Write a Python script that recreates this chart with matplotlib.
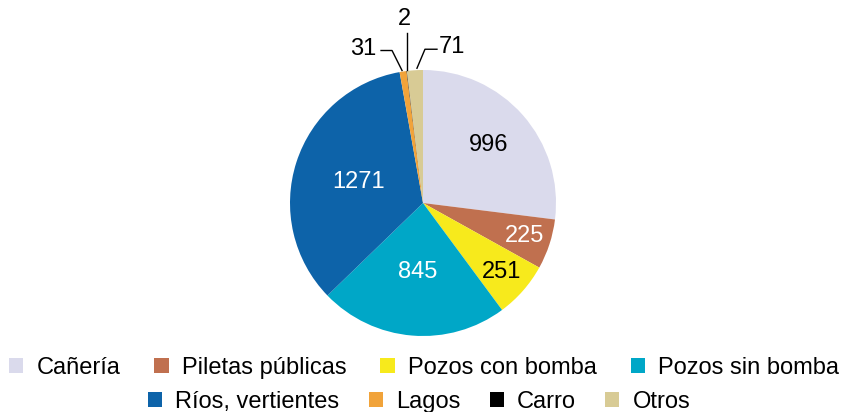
import matplotlib
matplotlib.use("Agg")
import matplotlib.pyplot as plt
from matplotlib.patches import Patch
import numpy as np

plt.rcParams['font.family'] = ['Liberation Sans', 'DejaVu Sans']

categories = ["Cañería", "Piletas públicas", "Pozos con bomba", "Pozos sin bomba",
              "Ríos, vertientes", "Lagos", "Carro", "Otros"]
values = [996, 225, 251, 845, 1271, 31, 2, 71]
colors = ["#DADAEC", "#C0704F", "#F7EA1C", "#00A7C7", "#0D63A9", "#F1A33A", "#000000", "#D8CB95"]
label_colors = ["black", "white", "black", "white", "white", "black", "black", "black"]

W, H = 843, 412
fig = plt.figure(figsize=(W / 100, H / 100), dpi=100)
ax = fig.add_axes([0, 0, 1, 1])
ax.set_xlim(0, W)
ax.set_ylim(0, H)
ax.set_aspect('equal')
ax.axis('off')

cx, cy, R = 423, H - 203, 133
wedges, _ = ax.pie(values, colors=colors, startangle=90, counterclock=False,
                   center=(cx, cy), radius=R, frame=False,
                   wedgeprops=dict(linewidth=0))
ax.set_xlim(0, W)
ax.set_ylim(0, H)

fs = 17
inner_r = [0.66, 0.80, 0.79, 0.52, 0.51]
for i, w in enumerate(wedges[:5]):
    mid = np.deg2rad((w.theta1 + w.theta2) / 2)
    x = cx + inner_r[i] * R * np.cos(mid)
    y = cy + inner_r[i] * R * np.sin(mid)
    ax.text(x, y, str(values[i]), ha='center', va='center', fontsize=fs,
            color=label_colors[i])

# outside labels with leader lines (offsets in pixels from wedge edge)
outer = {5: ([(-1, 1), (-11, 21), (-22, 21)], (-27, 23), 'right'),
         6: ([(0, 1), (0, 38)], (-2, 52), 'center'),
         7: ([(2, 2), (10, 21), (22, 21)], (24, 23), 'left')}
for i, (pts, toff, ha) in outer.items():
    w = wedges[i]
    mid = np.deg2rad((w.theta1 + w.theta2) / 2)
    ex = cx + R * np.cos(mid)
    ey = cy + R * np.sin(mid)
    xs = [ex + p[0] for p in pts]
    ys = [ey + p[1] for p in pts]
    ax.plot(xs, ys, color='black', lw=1)
    ax.text(ex + toff[0], ey + toff[1], str(values[i]), ha=ha, va='center', fontsize=fs)

handles = [Patch(facecolor=c, edgecolor='none') for c in colors]
common = dict(frameon=False, fontsize=fs, handlelength=0.6, handleheight=0.6,
              handletextpad=0.55, borderpad=0, borderaxespad=0)
leg1 = fig.legend(handles[:4], categories[:4], ncol=4, loc='center',
                  columnspacing=1.45,
                  bbox_to_anchor=(424 / W, (H - 368) / H), **common)
leg2 = fig.legend(handles[4:], categories[4:], ncol=4, loc='center',
                  columnspacing=1.25,
                  bbox_to_anchor=(419 / W, (H - 402) / H), **common)

fig.savefig("out.png", dpi=100)
